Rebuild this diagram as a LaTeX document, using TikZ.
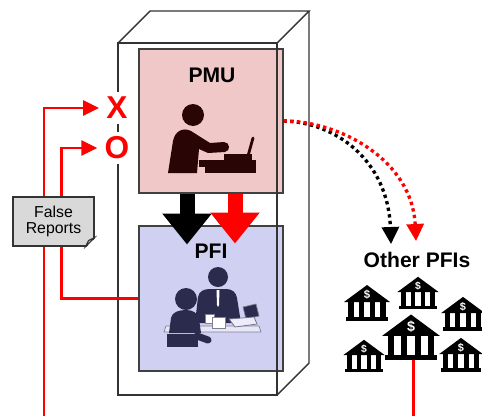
\documentclass[tikz,border=0pt]{standalone}
\usepackage{fontspec}
\setmainfont{Liberation Sans}
\usetikzlibrary{arrows.meta,calc}

\definecolor{pmupink}{HTML}{F0C8C8}
\definecolor{pfiblue}{HTML}{D0D0F2}
\definecolor{pmuink}{HTML}{2A0505}
\definecolor{pfiink}{HTML}{2B2B4D}
\definecolor{notegray}{HTML}{D9D9D9}

\tikzset{
	unitbox/.style={draw=black!75, line width=0.6pt, minimum width=2.88cm, minimum height=2.88cm, inner sep=0pt},
	title/.style={font=\bfseries\fontsize{12}{12}\selectfont, inner sep=0pt},
	cubeline/.style={draw=black!80, line width=0.8pt},
	blockarrow/.style={line width=0.3cm, -{Triangle[width=0.95cm, length=0.62cm]}},
	dotarrow/.style={line width=1.9pt, dash pattern=on 1.9pt off 1.9pt, -{Triangle[width=0.34cm, length=0.34cm]}},
	redarrow/.style={red, line width=1.7pt, -{Triangle[width=0.3cm, length=0.32cm]}},
	redline/.style={red, line width=1.7pt},
	flag/.style={text=red, fill=white, font=\bfseries\fontsize{18}{18}\selectfont, inner xsep=4pt, inner ysep=3pt},
	notebox/.style={fill=notegray, draw=black!80, line width=0.6pt, minimum width=1.62cm, minimum height=0.98cm, align=center, inner sep=0pt, font=\fontsize{9}{9}\selectfont}
}

% bank symbol: x, y, scale
\newcommand{\bankicon}[3]{%
	\begin{scope}[shift={(#1,#2)}, scale=#3]
		\fill (-23,-1) -- (0,-18) -- (23,-1) -- cycle;
		\foreach \cx in {-16,-5.5,5.5,16}
			\fill (\cx-2.6,-1) rectangle (\cx+2.6,14);
		\fill (-21,14) rectangle (21,18);
		\node[transform shape, text=white, inner sep=0pt, font=\bfseries\fontsize{6.5}{6.5}\selectfont] at (0,-8) {\$};
	\end{scope}}

\begin{document}
\begin{tikzpicture}[x=0.02cm, y=-0.02cm]
		%%%%% START %%%%%
		\useasboundingbox (0,0) rectangle (482,416);
		
		% the two units
		\node[unitbox, fill=pmupink] (pmu) at (211,121) {};
		\node[unitbox, fill=pfiblue, minimum height=2.9cm] (pfi) at (211,298.5) {};
		\node[title] (pmulbl) at (212,75) {PMU};
		\node[title] (pfilbl) at (211,251) {PFI};
		
		% PMU officer at his desk
		\fill[pmuink] (193,115) circle (0.22cm);
		\fill[pmuink] (168,173) -- (173,141) .. controls (175,131) and (183,127) .. (191,131) -- (210,143) -- (224,142) .. controls (230,142) and (231,151) .. (225,152) -- (208,153) -- (199,149) -- (197,173) -- cycle;
		\fill[pmuink] (199,160) rectangle (256,167);
		\fill[pmuink] (205,167) rectangle (256,173);
		\fill[pmuink] (224,154) rectangle (252,160);
		\draw[pmuink, line width=1.6pt, line cap=round] (248,156) -- (253,138);
		
		% PFI meeting at a table
		\fill[pfiink] (218,277) circle (0.2cm);
		\fill[pfiink] (195,323) -- (198,297) .. controls (199,291) and (204,289) .. (210,289) -- (226,289) .. controls (232,289) and (236,292) .. (237,298) -- (241,323) -- cycle;
		\fill[white] (216.5,290) -- (219.5,290) -- (219,305) -- (218,307) -- (217,305) -- cycle;
		\filldraw[fill=pfiblue!50!white, draw=pfiink!60, line width=0.4pt] (166,326) -- (259,326) -- (261,332) -- (164,332) -- cycle;
		\filldraw[fill=white, draw=pfiink!60, line width=0.4pt] (205,314) rectangle (214,323);
		\filldraw[fill=white, draw=pfiink!60, line width=0.4pt] (212,317) rectangle (225,328);
		\filldraw[fill=pfiink, draw=pfiink!60, line width=0.4pt] (243,307) -- (256,304) -- (259,316) -- (246,319) -- cycle;
		\filldraw[fill=pfiblue!40!white, draw=pfiink!70, line width=0.4pt] (229,319) -- (254,317) -- (257,324) -- (235,327) -- cycle;
		\fill[pfiink] (186,299) circle (0.22cm);
		\fill[pfiink] (169,333) -- (171,318) .. controls (172,312) and (179,310) .. (186,310) .. controls (193,310) and (198,313) .. (199,319) -- (201,333) -- cycle;
		\fill[pfiink] (167,334) rectangle (198,347);
		\draw[pfiink, line width=4pt, line cap=round] (197,336) -- (208,340);
		
		% cabinet round both units
		\draw[cubeline] (118,43) rectangle (277,395);
		\draw[cubeline] (118,43) -- (150,11) -- (309,11) -- (277,43);
		\draw[cubeline] (309,11) -- (309,363) -- (277,395);
		
		% flows from PMU down to PFI
		\draw[blockarrow, black] ([xshift=-0.48cm]pmu.south) -- ++(0,51);
		\draw[blockarrow, red] ([xshift=0.48cm]pmu.south) -- ++(0,50);
		
		% other banks
		\node[title] (oth) at (417,260) {Other PFIs};
		\coordinate (othA) at (391,244);
		\coordinate (othB) at (416,241);
		\draw[dotarrow, black] (pmu.east) .. controls (335,122) and (388,160) .. (othA);
		\draw[dotarrow, red] (pmu.east) .. controls (340,121) and (412,160) .. (othB);
		
		\bankicon{367}{303}{1}
		\bankicon{418}{293}{0.9}
		\bankicon{463}{314}{0.95}
		\bankicon{364}{356}{0.9}
		\bankicon{461}{355}{0.95}
		\bankicon{411}{337}{1.25}
		\coordinate (bankbase) at (413,360);
		\coordinate (bankfoot) at (413,416);
		\draw[redline] (bankbase) -- (bankfoot);
		
		% X / O marks and the report loops
		\node[flag] (xmark) at (117,108) {X};
		\node[flag] (omark) at (117,148) {O};
		\coordinate (feed) at (44,416);
		\draw[redarrow] (feed) |- (xmark);
		\draw[redarrow] (pfi.west) -- ++(-77,0) |- (omark);
		
		% folded note
		\node[notebox] (rep) at (53.5,221.5) {False\\Reports};
		\fill[white] ([yshift=0.2cm, xshift=0.05cm]rep.south east) -- ([xshift=0.05cm, yshift=-0.05cm]rep.south east) -- ([xshift=-0.2cm, yshift=-0.05cm]rep.south east) -- cycle;
		\draw[black!80, line width=0.6pt, fill=notegray!60] ([yshift=0.18cm]rep.south east) -- ([xshift=-0.18cm]rep.south east) -- ([xshift=-0.12cm, yshift=0.12cm]rep.south east) -- cycle;
		
		%%%%% END %%%%%
	\end{tikzpicture}
\end{document}
